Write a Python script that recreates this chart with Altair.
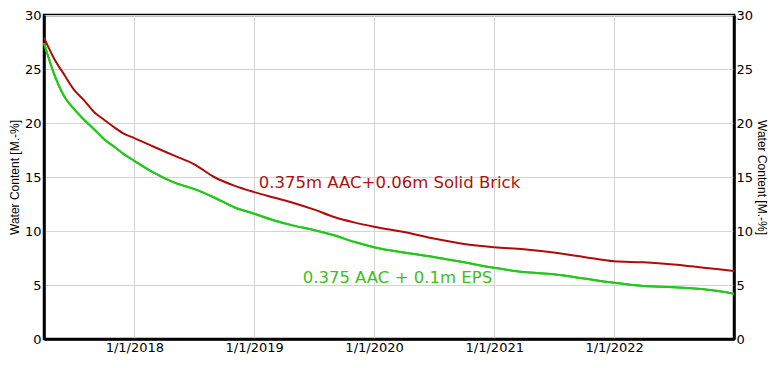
import altair as alt
import pandas as pd

dates = ["2017-04-01", "2017-05-01", "2017-06-01", "2017-07-01", "2017-08-01",
         "2017-09-01", "2017-10-01", "2017-11-01", "2017-12-01", "2018-01-01",
         "2018-03-01", "2018-05-01", "2018-07-01", "2018-09-01", "2018-11-01",
         "2019-01-01", "2019-03-01", "2019-05-01", "2019-07-01", "2019-09-01",
         "2019-11-01", "2020-01-01", "2020-04-01", "2020-07-01", "2020-10-01",
         "2021-01-01", "2021-04-01", "2021-07-01", "2021-10-01", "2022-01-01",
         "2022-04-01", "2022-07-01", "2022-10-01", "2023-01-01"]

brick = [27.9, 26.0, 24.5, 23.1, 22.1, 21.0, 20.3, 19.6, 19.0, 18.6,
         17.8, 17.0, 16.2, 15.0, 14.2, 13.6, 13.1, 12.6, 12.0, 11.3,
         10.8, 10.4, 9.9, 9.3, 8.8, 8.5, 8.3, 8.0, 7.6, 7.2,
         7.1, 6.9, 6.6, 6.3]

eps = [27.4, 24.6, 22.5, 21.3, 20.3, 19.4, 18.5, 17.8, 17.1, 16.5,
       15.4, 14.5, 13.9, 13.1, 12.2, 11.6, 11.0, 10.5, 10.1, 9.6,
       9.0, 8.5, 8.0, 7.6, 7.1, 6.6, 6.2, 6.0, 5.6, 5.2,
       4.9, 4.8, 4.6, 4.2]

series_names = ["0.375m AAC+0.06m Solid Brick", "0.375 AAC + 0.1m EPS"]
series_colors = ["#b00a0a", "#22c81a"]
label_dates = ["2020-02-17", "2020-03-12"]
label_values = [14.45, 5.65]
label_colors = ["#b01010", "#3cc020"]

x_start, x_end = "2017-04-01", "2023-01-01"
y_ticks = [0, 5, 10, 15, 20, 25, 30]
x_ticks = ["2018-01-01", "2019-01-01", "2020-01-01", "2021-01-01", "2022-01-01"]

rows = []
for d, b, e in zip(dates, brick, eps):
    rows.append({"date": d, "value": b, "series": series_names[0]})
    rows.append({"date": d, "value": e, "series": series_names[1]})
df = pd.DataFrame(rows)
df_green = df[df.series == series_names[1]]
labels = pd.DataFrame({"date": label_dates, "value": label_values,
                       "text": series_names, "color": label_colors})

xscale = alt.Scale(domain=[x_start, x_end], nice=False)
yscale = alt.Scale(domain=[0, 30], nice=False)

x_enc = alt.X("date:T", scale=xscale, title=None,
              axis=alt.Axis(values=x_ticks, format="%-m/%-d/%Y", grid=True,
                            gridColor="#d4d4d4", ticks=False, labelPadding=2,
                            domain=True, domainColor="black", domainWidth=2.5,
                            labelFont="DejaVu Sans", labelFontSize=13,
                            labelColor="black", labelFlush=False))

lines = alt.Chart(df).mark_line(strokeWidth=2, interpolate="monotone").encode(
    x=x_enc,
    y=alt.Y("value:Q", scale=yscale,
            axis=alt.Axis(orient="left", values=y_ticks, grid=True, gridColor="#d4d4d4",
                          ticks=False, domain=True, domainColor="black", domainWidth=2.5,
                          labelPadding=3,
                          title="Water Content [M.-%]", titleFont="Liberation Sans",
                          titleFontSize=12, titleFontWeight="normal", titlePadding=3,
                          labelFont="DejaVu Sans", labelFontSize=13, labelColor="black")),
    color=alt.Color("series:N", scale=alt.Scale(domain=series_names, range=series_colors),
                    legend=None),
)

right = alt.Chart(df_green).mark_line(strokeWidth=2, color=series_colors[1],
                                      interpolate="monotone").encode(
    x=alt.X("date:T", scale=xscale),
    y=alt.Y("value:Q", scale=yscale,
            axis=alt.Axis(orient="right", values=y_ticks, grid=False, ticks=False,
                          domain=True, domainColor="black", domainWidth=2.5,
                          labelPadding=2,
                          title="Water Content [M.-%]", titleFont="Liberation Sans",
                          titleFontSize=12, titleFontWeight="normal", titlePadding=2,
                          titleAngle=90,
                          labelFont="DejaVu Sans", labelFontSize=13, labelColor="black")),
)

text = alt.Chart(labels).mark_text(font="DejaVu Sans", fontSize=16.5, align="center",
                                   baseline="middle").encode(
    x=alt.X("date:T", scale=xscale),
    y=alt.Y("value:Q", scale=yscale, axis=None),
    text="text:N",
    color=alt.Color("color:N", scale=None),
)

chart = alt.layer(lines, right, text).resolve_scale(
    y="independent", color="independent"
).properties(
    width=690, height=324,
    background="white",
    autosize=alt.AutoSizeParams(type="none"),
    padding={"left": 36, "top": 7, "right": 39, "bottom": 17},
).configure_view(
    stroke="black", strokeWidth=2.5
)

chart.save("out.html", embed_options={"renderer": "svg", "actions": False})
